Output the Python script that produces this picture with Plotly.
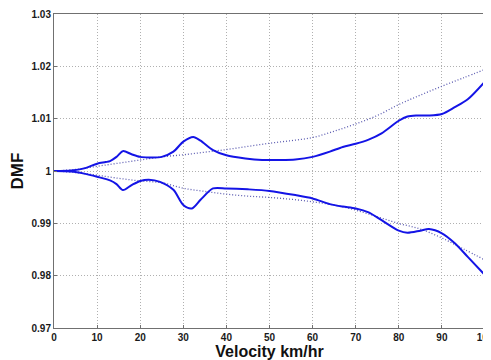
import plotly.graph_objects as go

# Upper solid curve
x_up = [0, 4, 7, 10, 12, 13, 14.5, 16, 18, 20, 22, 25, 27.7, 30, 32.3, 34, 36.9, 40, 44.4, 48.3, 52, 56, 60, 64, 67, 70, 73, 76, 80, 82, 84, 87, 90, 93, 96, 100]
y_up = [1.0, 1.0001, 1.0005, 1.0014, 1.0017, 1.0019, 1.0027, 1.0038, 1.0032, 1.0027, 1.0026, 1.0027, 1.0037, 1.0056, 1.0065, 1.0058, 1.0040, 1.0030, 1.0024, 1.0021, 1.0021, 1.0022, 1.0027, 1.0037, 1.0046, 1.0052, 1.0060, 1.0072, 1.0096, 1.0104, 1.0106, 1.0106, 1.0109, 1.0122, 1.0137, 1.0171]

# Lower solid curve
x_lo = [0, 4, 7, 10, 13, 14.5, 16, 18, 20, 22, 24.6, 27.7, 30, 32, 34, 36.9, 40, 45, 50, 56, 60, 64, 67, 70, 73, 76, 80, 82, 85, 87, 90, 93, 96, 100]
y_lo = [1.0, 0.9999, 0.9995, 0.9989, 0.9982, 0.9975, 0.99635, 0.9973, 0.9981, 0.99835, 0.99793, 0.9964, 0.9935, 0.99285, 0.9945, 0.99667, 0.99667, 0.9965, 0.9962, 0.9954, 0.99476, 0.99367, 0.9932, 0.99285, 0.9921, 0.9906, 0.9886, 0.9882, 0.9886, 0.9889, 0.9881, 0.9862, 0.9836, 0.9801]

# Dotted envelope curves
x_env = [0, 5, 10, 15, 20, 25, 30, 35, 40, 45, 50, 55, 60, 65, 70, 75, 80, 85, 90, 95, 100]
y_env_up = [1.0, 1.0003, 1.0009, 1.0015, 1.0021, 1.0027, 1.0031, 1.0036, 1.0041, 1.0047, 1.0053, 1.0058, 1.0064, 1.0076, 1.0090, 1.0106, 1.0127, 1.0145, 1.0162, 1.0178, 1.0194]
y_env_lo = [1.0, 0.9997, 0.9992, 0.9986, 0.9981, 0.99775, 0.9967, 0.9961, 0.99558, 0.9952, 0.99495, 0.9946, 0.99411, 0.9935, 0.99252, 0.99125, 0.98998, 0.9889, 0.9872, 0.9851, 0.9830]

x_ticks = [0, 10, 20, 30, 40, 50, 60, 70, 80, 90, 100]
y_ticks = [0.97, 0.98, 0.99, 1.0, 1.01, 1.02, 1.03]
y_tick_text = ["0.97", "0.98", "0.99", "1", "1.01", "1.02", "1.03"]

solid_color = "#1414e6"
dot_color = "#5a5ab0"

fig = go.Figure()
fig.add_trace(go.Scatter(x=x_env, y=y_env_up, mode="lines",
                         line=dict(color=dot_color, width=1.3, dash="1px,2px", shape="spline")))
fig.add_trace(go.Scatter(x=x_env, y=y_env_lo, mode="lines",
                         line=dict(color=dot_color, width=1.3, dash="1px,2px", shape="spline")))
fig.add_trace(go.Scatter(x=x_up, y=y_up, mode="lines",
                         line=dict(color=solid_color, width=2, shape="spline", smoothing=0.8)))
fig.add_trace(go.Scatter(x=x_lo, y=y_lo, mode="lines",
                         line=dict(color=solid_color, width=2, shape="spline", smoothing=0.8)))

axis_font = dict(family="Liberation Sans, Arial, sans-serif", size=10, color="#1a1a1a")

# page body has an 8px margin, so the figure is sized to fit the 491x360 window
fig.update_layout(
    width=483, height=352,
    margin=dict(l=46, r=6, t=6, b=32, autoexpand=False),
    paper_bgcolor="white", plot_bgcolor="white",
    showlegend=False,
    xaxis=dict(range=[0, 100], tickvals=x_ticks, ticktext=[str(v) for v in x_ticks],
               showgrid=True, gridcolor="#b0b0b0", griddash="1px,2px", gridwidth=1,
               showline=True, linecolor="#707070", linewidth=1, mirror=True,
               ticks="inside", ticklen=3, tickcolor="#707070",
               tickfont=dict(**axis_font, weight="bold"), zeroline=False,
               automargin=False, ticklabeloverflow="allow",
               title=dict(text="<b>Velocity km/hr</b>",
                          font=dict(family="Liberation Sans, Arial, sans-serif", size=16, color="#111111"),
                          standoff=0)),
    yaxis=dict(range=[0.97, 1.03], tickvals=y_ticks, ticktext=y_tick_text,
               showgrid=True, gridcolor="#b0b0b0", griddash="1px,2px", gridwidth=1,
               showline=True, linecolor="#707070", linewidth=1, mirror=True,
               ticks="inside", ticklen=3, tickcolor="#707070",
               tickfont=dict(**axis_font, weight="bold"), zeroline=False,
               automargin=False,
               title=dict(text="<b>DMF</b>",
                          font=dict(family="Liberation Sans, Arial, sans-serif", size=17, color="#111111"),
                          standoff=4)),
)

fig.write_html("out.html")
